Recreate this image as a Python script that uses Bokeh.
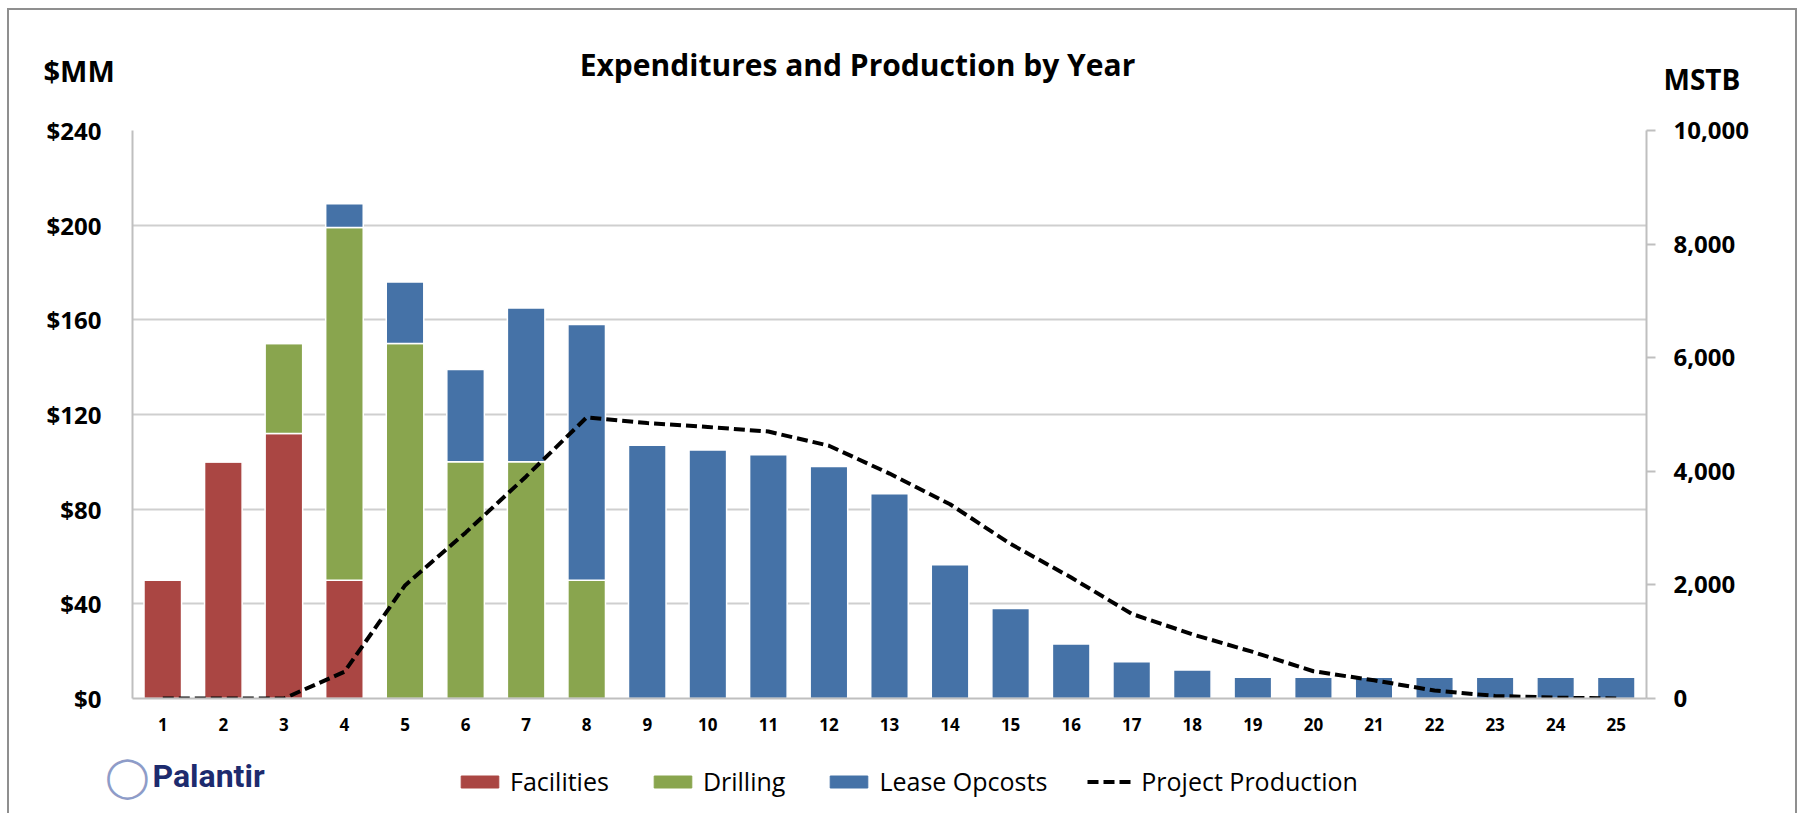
from bokeh.plotting import figure
from bokeh.layouts import column
from bokeh.models import (Range1d, LinearAxis, FixedTicker, NumeralTickFormatter,
                          ColumnDataSource, Legend, LegendItem)
from bokeh.core.properties import value
from bokeh.embed import file_html
from bokeh.resources import INLINE

# ---- data ----
years = list(range(1, 26))
facilities = [50, 100, 112, 50] + [0] * 21
drilling = [0, 0, 38, 149, 150, 100, 100, 50] + [0] * 17
lease_opcosts = [0, 0, 0, 10, 26, 39, 65, 108, 107, 105, 103, 98, 86.5, 56.5,
                 38, 23, 15.5, 12, 9, 9, 9, 9, 9, 9, 9]
production = [0, 0, 0, 470, 1990, 2920, 3910, 4950, 4850, 4780, 4700, 4450,
              3960, 3420, 2720, 2130, 1490, 1130, 820, 480, 320, 140, 45, 15, 0]
series_names = ["Facilities", "Drilling", "Lease Opcosts"]
series_colors = ["#AA4643", "#89A54E", "#4572A7"]
line_name = "Project Production"
left_ticks = [0, 40, 80, 120, 160, 200, 240]
right_ticks = [0, 2000, 4000, 6000, 8000, 10000]
title_text = "Expenditures and Production by Year"
left_unit = "$MM"
right_unit = "MSTB"
logo_text = "Palantir"

FONT = "Open Sans"
W = 1786
HEAD_H = 103
FOOT_H = 70
NAN = float("nan")


def blank(height):
    f = figure(width=W, height=height, output_backend="svg", toolbar_location=None,
               x_range=Range1d(0, W), y_range=Range1d(height, 0),
               x_axis_type=None, y_axis_type=None, min_border=0, frame_align=False)
    f.grid.visible = False
    f.outline_line_color = None
    f.background_fill_color = "white"
    f.border_fill_color = "white"
    return f


# ---- header: title and unit captions ----
head = blank(HEAD_H)
head.text(x=[848], y=[54], text=[title_text], text_align="center", text_baseline="middle",
          text_font=value(FONT), text_font_size="30px", text_font_style="bold",
          text_color="black")
head.text(x=[34], y=[60], text=[left_unit], text_align="left",
          text_baseline="middle", text_font=value(FONT), text_font_size="29px",
          text_font_style="bold", text_color="black")
head.text(x=[1654], y=[68], text=[right_unit], text_align="left",
          text_baseline="middle", text_font=value(FONT), text_font_size="28px",
          text_font_style="bold", text_color="black")

# ---- main chart ----
src = ColumnDataSource(dict(year=years, Facilities=facilities, Drilling=drilling,
                            **{"Lease Opcosts": lease_opcosts}, prod=production))

p = figure(width=W, height=17 + 568 + 45, output_backend="svg", toolbar_location=None,
           x_range=Range1d(0.5, 25.5), y_range=Range1d(0, 240),
           min_border_left=123, min_border_right=149,
           min_border_top=17, min_border_bottom=45, frame_align=False)
p.extra_y_ranges = {"prod": Range1d(0, 10000)}
p.outline_line_color = None
p.background_fill_color = "white"
p.border_fill_color = "white"

p.vbar_stack(series_names, x="year", width=0.62, source=src, color=series_colors,
             line_color="white", line_width=1.5)
p.line(x="year", y="prod", source=src, y_range_name="prod", line_color="black",
       line_width=4, line_dash="11 5")

p.xgrid.grid_line_color = None
p.ygrid.grid_line_color = "#CFCFCF"
p.ygrid.grid_line_width = 2
p.ygrid.ticker = FixedTicker(ticks=left_ticks)

xa = p.xaxis[0]
xa.ticker = FixedTicker(ticks=years)
xa.axis_line_color = "#BFBFBF"
xa.axis_line_width = 2
xa.major_tick_line_color = None
xa.minor_tick_line_color = None
xa.major_label_standoff = 13
xa.major_label_text_font = FONT
xa.major_label_text_font_style = "bold"
xa.major_label_text_font_size = "17px"
xa.major_label_text_color = "black"

ya = p.yaxis[0]
ya.ticker = FixedTicker(ticks=left_ticks)
ya.formatter = NumeralTickFormatter(format="$0")
ya.axis_line_color = "#BFBFBF"
ya.axis_line_width = 2
ya.major_tick_line_color = None
ya.minor_tick_line_color = None
ya.major_label_standoff = 25
ya.major_label_text_font = FONT
ya.major_label_text_font_style = "bold"
ya.major_label_text_font_size = "24px"
ya.major_label_text_color = "black"

ra = LinearAxis(y_range_name="prod", ticker=FixedTicker(ticks=right_ticks),
                formatter=NumeralTickFormatter(format="0,0"))
ra.axis_line_color = "#BFBFBF"
ra.axis_line_width = 2
ra.major_tick_line_color = "#BFBFBF"
ra.major_tick_line_width = 2
ra.major_tick_out = 9
ra.major_tick_in = 0
ra.minor_tick_line_color = None
ra.major_label_standoff = 18
ra.major_label_text_font = FONT
ra.major_label_text_font_style = "bold"
ra.major_label_text_font_size = "24px"
ra.major_label_text_color = "black"
p.add_layout(ra, "right")

# ---- footer: logo and legend ----
foot = blank(FOOT_H)
foot.text(x=[118], y=[32], text=["\u25ef"], text_align="center", text_baseline="middle",
          text_font=value("DejaVu Sans"), text_font_size="40px", text_color="#8E9CC8")
foot.text(x=[143], y=[32], text=[logo_text], text_align="left", text_baseline="middle",
          text_font=value("Roboto"), text_font_size="32px", text_font_style="bold",
          text_color="#1D2B6E")

items = []
for name, col in zip(series_names, series_colors):
    r = foot.vbar(x=[NAN], top=[NAN], width=1, fill_color=col, line_color=col)
    items.append(LegendItem(label=name, renderers=[r]))
rl = foot.line(x=[NAN], y=[NAN], line_color="black", line_width=4, line_dash="11 5")
items.append(LegendItem(label=line_name, renderers=[rl]))

lg = Legend(items=items, location=(447, 15), orientation="horizontal",
            border_line_color=None, background_fill_alpha=0, padding=0, margin=0,
            spacing=40, glyph_width=47, glyph_height=15, label_height=24,
            label_standoff=7, label_text_font=FONT, label_text_font_size="25px",
            label_text_color="black")
foot.add_layout(lg, "center")

layout = column(head, p, foot, spacing=0,
                styles={"margin-left": "7px", "margin-top": "8px",
                        "border-left": "2px solid #8f8f8f",
                        "border-top": "2px solid #8f8f8f",
                        "border-right": "2px solid #8f8f8f"})

open("out.html", "w").write(file_html(layout, INLINE))
